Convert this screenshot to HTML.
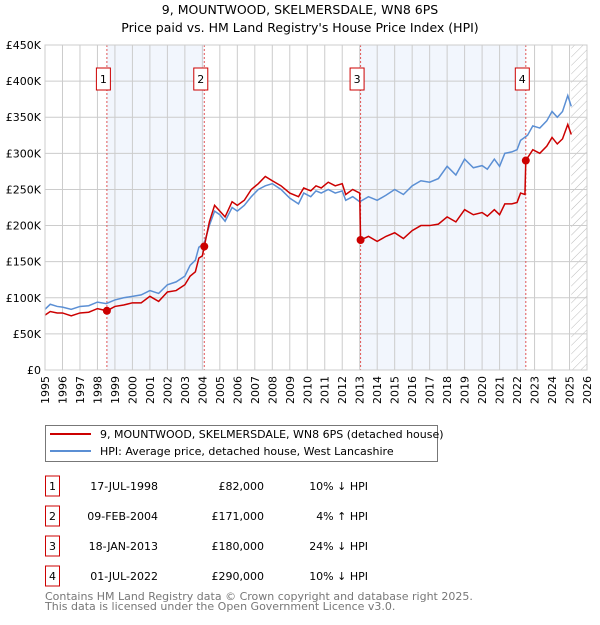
<!DOCTYPE html>
<html><head><meta charset="utf-8"><style>
body{margin:0;background:#fff;font-family:"Liberation Sans","DejaVu Sans",sans-serif;}
svg text{font-family:"DejaVu Sans","Liberation Sans",sans-serif;}
</style></head><body>
<svg id="chart" width="600" height="620" xmlns="http://www.w3.org/2000/svg">
<text x="300" y="14" font-size="12.5" text-anchor="middle" fill="#000">9, MOUNTWOOD, SKELMERSDALE, WN8 6PS</text>
<text x="300" y="32" font-size="12.5" text-anchor="middle" fill="#000">Price paid vs. HM Land Registry's House Price Index (HPI)</text>
<g id="plot"></g>
<rect x="45.5" y="425.5" width="392" height="36" fill="#fff" stroke="#777"/>
<line x1="50" y1="434" x2="91" y2="434" stroke="#cc0000" stroke-width="2"/>
<text x="100" y="438" font-size="11">9, MOUNTWOOD, SKELMERSDALE, WN8 6PS (detached house)</text>
<line x1="50" y1="451" x2="91" y2="451" stroke="#5b8fd4" stroke-width="2"/>
<text x="100" y="455" font-size="11">HPI: Average price, detached house, West Lancashire</text>
<g id="table" font-size="11"></g>
<text x="45" y="600" font-size="11" fill="#777">Contains HM Land Registry data © Crown copyright and database right 2025.</text>
<text x="45" y="610" font-size="11" fill="#777">This data is licensed under the Open Government Licence v3.0.</text>
</svg>
<script>
const hpiT=[1995,1995.3,1995.7,1996,1996.5,1997,1997.5,1998,1998.5,1999,1999.5,2000,2000.5,2001,2001.5,2002,2002.5,2003,2003.3,2003.6,2003.8,2004.1,2004.4,2004.7,2005,2005.3,2005.7,2006,2006.4,2006.8,2007.2,2007.6,2008,2008.5,2009,2009.5,2009.8,2010.2,2010.5,2010.8,2011.2,2011.6,2012,2012.2,2012.6,2013,2013.5,2014,2014.5,2015,2015.5,2016,2016.5,2017,2017.5,2018,2018.5,2019,2019.5,2020,2020.3,2020.7,2021,2021.3,2021.7,2022,2022.2,2022.6,2022.9,2023.3,2023.7,2024,2024.3,2024.6,2024.9,2025.1];
const hpiV=[84,91,88,87,84,88,89,94,92,97,100,102,104,110,106,118,122,130,145,152,170,175,200,220,215,206,225,220,228,240,250,255,258,250,238,230,245,240,248,245,250,245,248,235,240,233,240,235,242,250,243,255,262,260,265,282,270,292,280,283,278,292,282,300,302,305,318,325,338,335,345,358,350,358,380,365];
const priceT=[1995,1995.3,1995.7,1996,1996.5,1997,1997.5,1998,1998.54,1999,1999.5,2000,2000.5,2001,2001.5,2002,2002.5,2003,2003.3,2003.6,2003.8,2004.0,2004.11,2004.4,2004.7,2005,2005.3,2005.7,2006,2006.4,2006.8,2007.2,2007.6,2008,2008.5,2009,2009.5,2009.8,2010.2,2010.5,2010.8,2011.2,2011.6,2012,2012.2,2012.6,2013,2013.05,2013.5,2014,2014.5,2015,2015.5,2016,2016.5,2017,2017.5,2018,2018.5,2019,2019.5,2020,2020.3,2020.7,2021,2021.3,2021.7,2022,2022.2,2022.45,2022.5,2022.9,2023.3,2023.7,2024,2024.3,2024.6,2024.9,2025.1];
const priceV=[76,81,79,79,75,79,80,85,82,88,90,93,93,102,95,108,110,118,130,136,155,158,171,205,228,220,212,233,228,235,250,258,268,262,255,245,240,252,248,255,252,260,255,258,243,250,245,180,185,178,185,190,182,193,200,200,202,212,205,222,215,218,213,222,215,230,230,232,245,243,290,305,300,310,322,313,320,340,326];
const saleLabels=["1","2","3","4"];
const saleT=[1998.54,2004.11,2013.05,2022.5];
const saleV=[82,171,180,290];
const saleDates=["17-JUL-1998","09-FEB-2004","18-JAN-2013","01-JUL-2022"];
const salePrices=["£82,000","£171,000","£180,000","£290,000"];
const saleHpi=["10% ↓ HPI","4% ↑ HPI","24% ↓ HPI","10% ↓ HPI"];
const yTicks=[0,50,100,150,200,250,300,350,400,450];
const yTickLabels=["£0","£50K","£100K","£150K","£200K","£250K","£300K","£350K","£400K","£450K"];
const xTicks=[1995,1996,1997,1998,1999,2000,2001,2002,2003,2004,2005,2006,2007,2008,2009,2010,2011,2012,2013,2014,2015,2016,2017,2018,2019,2020,2021,2022,2023,2024,2025,2026];

const L=45,R=587,T=45,B=370,X0=1995,X1=2026,YMAX=450;
const sx=t=>L+(t-X0)/(X1-X0)*(R-L);
const sy=v=>B-v/YMAX*(B-T);
const NS="http://www.w3.org/2000/svg";
const g=document.getElementById('plot');
function mk(tag,attrs,parent){const e=document.createElementNS(NS,tag);for(const k in attrs)e.setAttribute(k,attrs[k]);(parent||g).appendChild(e);return e;}

for(let i=0;i<saleT.length;i+=2){
  const b=mk('rect',{x:sx(saleT[i]),y:T,width:sx(saleT[i+1])-sx(saleT[i]),height:B-T,fill:'#f2f6fd'});
  
  
}
const defs=mk('defs',{});
const pat=mk('pattern',{id:'hatch',width:6,height:6,patternUnits:'userSpaceOnUse',patternTransform:'rotate(45)'},defs);
mk('line',{x1:0,y1:0,x2:0,y2:6,stroke:'#bbb','stroke-width':1},pat);
const hr=mk('rect',{x:sx(2025.1),y:T,width:R-sx(2025.1),height:B-T,fill:'url(#hatch)'});


xTicks.forEach(t=>{
  mk('line',{x1:sx(t),y1:T,x2:sx(t),y2:B,stroke:'#ccc','stroke-width':1});
  const lb=mk('text',{x:0,y:0,'font-size':11,'text-anchor':'end',transform:`translate(${sx(t)+4},${B+6}) rotate(-90)`});
  lb.textContent=t;
  
  
});
yTicks.forEach((v,i)=>{
  mk('line',{x1:L,y1:sy(v),x2:R,y2:sy(v),stroke:'#ccc','stroke-width':1});
  const lb=mk('text',{x:L-4,y:sy(v)+4,'font-size':11,'text-anchor':'end'});
  lb.textContent=yTickLabels[i];
  
  
});
saleT.forEach(t=>{
  const l=mk('line',{x1:sx(t),y1:T,x2:sx(t),y2:B,stroke:'#e05555','stroke-width':1,'stroke-dasharray':'2,2'});
  
  
});
const hp=mk('polyline',{points:hpiT.map((t,i)=>sx(t)+','+sy(hpiV[i])).join(' '),fill:'none',stroke:'#5b8fd4','stroke-width':1.5});


const pp=mk('polyline',{points:priceT.map((t,i)=>sx(t)+','+sy(priceV[i])).join(' '),fill:'none',stroke:'#cc0000','stroke-width':1.5});


saleT.forEach((t,i)=>{
  const c=mk('circle',{cx:sx(t),cy:sy(saleV[i]),r:4,fill:'#cc0000'});
  
  
  const bx=mk('rect',{x:sx(t)-10.5,y:68,width:14,height:22,fill:'#fff',stroke:'#cc0000'});
  
  
  const tx=mk('text',{x:sx(t)-3.5,y:83,'font-size':11,'text-anchor':'middle'});
  tx.textContent=saleLabels[i];
  
  
});
mk('rect',{x:L,y:T,width:R-L,height:B-T,fill:'none',stroke:'#ccc'});

const tb=document.getElementById('table');
saleLabels.forEach((s,i)=>{
  const y=483+i*30;
  const bx=mk('rect',{x:45.5,y:y-7,width:14,height:20,fill:'#fff',stroke:'#cc0000'},tb);
  
  
  const n=mk('text',{x:52.5,y:y+7,'text-anchor':'middle'},tb);n.textContent=s;
  
  
  const d=mk('text',{x:158,y:y+7,'text-anchor':'end'},tb);d.textContent=saleDates[i];
  
  
  const p=mk('text',{x:264,y:y+7,'text-anchor':'end'},tb);p.textContent=salePrices[i];
  
  
  const h=mk('text',{x:368,y:y+7,'text-anchor':'end'},tb);h.textContent=saleHpi[i];
  
  
});
</script>
</body></html>
